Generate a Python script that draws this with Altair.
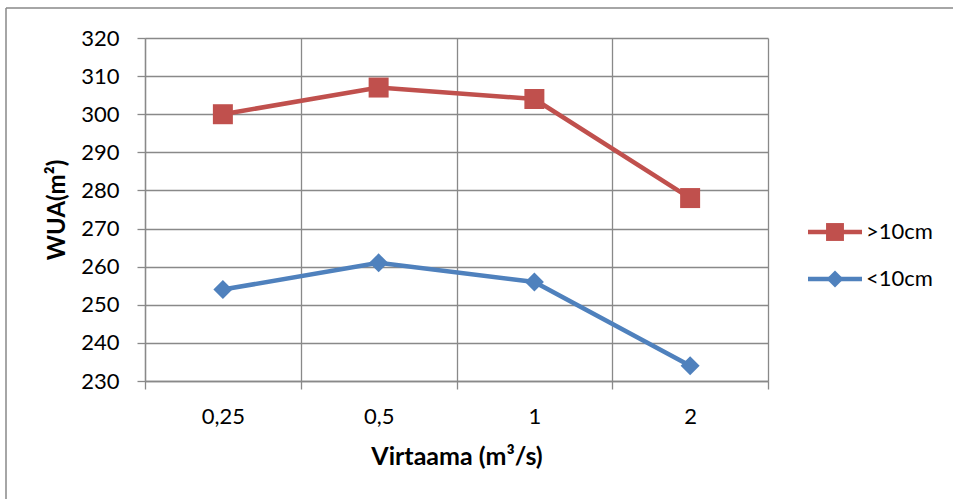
import altair as alt
import pandas as pd

# Flow classes on the x axis and WUA values per fish-size series
categories = ["0,25", "0,5", "1", "2"]
series_names = [">10cm", "<10cm"]
series_colors = ["#C0504D", "#4F81BD"]
series_shapes = ["square", "diamond"]
series_sizes = [400, 360]
wua_over_10 = [300, 307, 304, 278]
wua_under_10 = [254, 261, 256, 234]
y_ticks = list(range(230, 321, 10))

rows = []
for name, vals in zip(series_names, [wua_over_10, wua_under_10]):
    for i, (cat, val) in enumerate(zip(categories, vals)):
        rows.append({"series": name, "flow": cat, "pos": i + 0.5, "wua": val})
df = pd.DataFrame(rows)

FONT = "Lato"
GRID = "#898989"
LABEL_SIZE = 22
TITLE_SIZE = 24
W, H = 623, 343
PAD_L, PAD_T = 145, 38
TOTAL_W, TOTAL_H = 953, 499

n = len(categories)
label_list = "[" + ",".join("'" + c + "'" for c in categories) + "]"
on_boundary = "datum.value % 1 === 0"

x_scale = alt.Scale(domain=[0, n], nice=False, zero=False)
y_scale = alt.Scale(domain=[230, 320], nice=False, zero=False)

x_axis = alt.Axis(
    values=[i * 0.5 for i in range(2 * n + 1)],
    labelExpr=f"{on_boundary} ? '' : {label_list}[floor(datum.value)]",
    labelOverlap=False,
    labelFlush=False,
    grid=True,
    gridColor=GRID,
    gridWidth=1.3,
    gridOpacity={"condition": {"test": on_boundary, "value": 1}, "value": 0},
    tickOpacity={"condition": {"test": on_boundary, "value": 1}, "value": 0},
    tickColor=GRID,
    tickWidth=1.3,
    tickSize=8,
    domainColor=GRID,
    domainWidth=1.3,
    labelPadding=17,
    title="Virtaama (m³/s)",
    titleFontSize=25,
    titlePadding=17,
)

y_axis = alt.Axis(
    values=y_ticks,
    grid=True,
    gridColor=GRID,
    gridWidth=1.3,
    tickColor=GRID,
    tickWidth=1.3,
    tickSize=8,
    domainColor=GRID,
    domainWidth=1.3,
    labelPadding=18,
    title="WUA(m²)",
    titlePadding=11,
)

color = alt.Color("series:N", scale=alt.Scale(domain=series_names, range=series_colors), legend=None)
shape = alt.Shape("series:N", scale=alt.Scale(domain=series_names, range=series_shapes), legend=None)
size = alt.Size("series:N", scale=alt.Scale(domain=series_names, range=series_sizes), legend=None)

base = alt.Chart(df).encode(
    x=alt.X("pos:Q", scale=x_scale, axis=x_axis),
    y=alt.Y("wua:Q", scale=y_scale, axis=y_axis),
    color=color,
    detail="series:N",
)

lines = base.mark_line(strokeWidth=4.5)
points = base.mark_point(filled=True, opacity=1).encode(shape=shape, size=size)

layers = [lines, points]

# Legend entries at the right of the plot: line stub, marker and label
legend_rows_y = [194, 241]
for name, col, shp, sz, ly in zip(series_names, series_colors, series_shapes, series_sizes, legend_rows_y):
    one = alt.Chart(pd.DataFrame({"series": [name]}))
    layers.append(
        one.mark_rule(color=col, strokeWidth=4.5).encode(
            x=alt.value(663), x2=alt.value(717), y=alt.value(ly)
        )
    )
    layers.append(
        one.mark_point(filled=True, opacity=1, color=col, shape=shp, size=sz * 0.8).encode(
            x=alt.value(690), y=alt.value(ly)
        )
    )
    layers.append(
        one.mark_text(align="left", baseline="middle", font=FONT, fontSize=LABEL_SIZE, color="black").encode(
            x=alt.value(721), y=alt.value(ly), text="series:N"
        )
    )

# Outer chart frame (top and left edges)
frame = alt.Chart(pd.DataFrame({"edge": ["top"]}))
layers.append(
    frame.mark_rule(color=GRID, strokeWidth=1.5).encode(
        x=alt.value(6 - PAD_L), x2=alt.value(TOTAL_W - PAD_L + 5), y=alt.value(8 - PAD_T)
    )
)
layers.append(
    frame.mark_rule(color=GRID, strokeWidth=1.5).encode(
        x=alt.value(6 - PAD_L), y=alt.value(8 - PAD_T), y2=alt.value(TOTAL_H - PAD_T + 5)
    )
)

chart = (
    alt.layer(*layers)
    .properties(
        width=W,
        height=H,
        autosize=alt.AutoSizeParams(type="none"),
        padding={"left": PAD_L, "top": PAD_T, "right": TOTAL_W - PAD_L - W, "bottom": TOTAL_H - PAD_T - H},
        background="white",
    )
    .configure_view(stroke=None)
    .configure_axis(
        labelFont=FONT,
        labelFontSize=LABEL_SIZE,
        labelColor="black",
        titleFont=FONT,
        titleFontSize=TITLE_SIZE,
        titleFontWeight="bold",
        titleColor="black",
    )
)

chart.save("out.html", embed_options={"renderer": "svg", "actions": False})
